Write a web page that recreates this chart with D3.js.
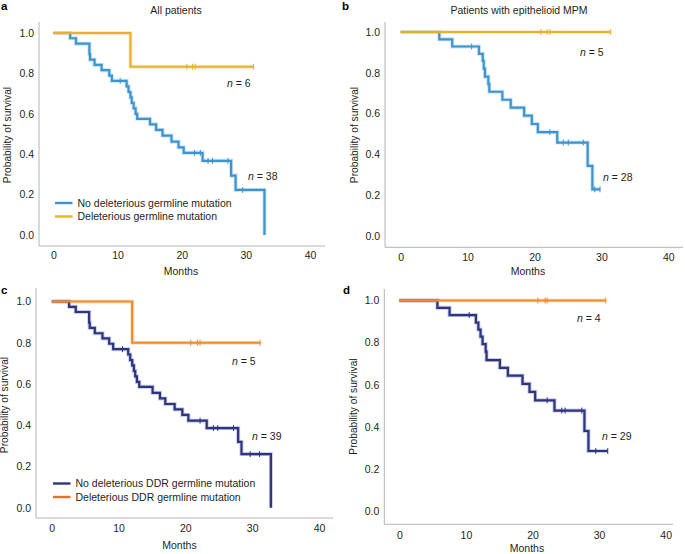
<!DOCTYPE html>
<html><head><meta charset="utf-8">
<script src="https://cdn.jsdelivr.net/npm/d3@7/dist/d3.min.js"></script>
<style>
html,body{margin:0;padding:0;background:#fff;}
svg{display:block;font-family:"Liberation Sans",Arial,Helvetica,sans-serif;}
</style></head>
<body><svg id="chart" width="685" height="554"></svg>
<script>
// ---------- data ----------
const monthTicks = [0, 10, 20, 30, 40];
const probTicks = [0, 0.2, 0.4, 0.6, 0.8, 1.0];

// Panel a: All patients
const aNoMutTimes = [0, 2.6, 3.5, 5.6, 5.7, 6.4, 7.5, 8.7, 9.1, 11.4, 11.7, 12.0, 12.2, 12.5, 12.8, 13.05, 15.05, 16.0, 17.0, 18.4, 19.5, 20.3, 23.25, 27.7, 28.4, 32.9];
const aNoMutSurv  = [1, 0.974, 0.947, 0.895, 0.868, 0.842, 0.816, 0.789, 0.763, 0.736, 0.708, 0.681, 0.654, 0.627, 0.600, 0.575, 0.548, 0.520, 0.492, 0.462, 0.434, 0.407, 0.367, 0.294, 0.223, 0.0];
const aNoMutCensor = [10.4, 22.0, 22.9, 24.1, 24.8, 27.2, 29.5];
const aNoMutEnd = 32.9;
const aMutTimes = [0, 12.0];
const aMutSurv  = [1, 0.833];
const aMutCensor = [20.8, 21.7, 22.1, 31.2];
const aMutEnd = 31.2;

// Panel b: Patients with epithelioid MPM
const bNoMutTimes = [0, 5.77, 7.7, 11.7, 12.26, 12.41, 12.6, 13.1, 13.25, 15.2, 16.45, 18.45, 19.6, 20.5, 23.4, 27.95, 28.65];
const bNoMutSurv  = [1, 0.964, 0.929, 0.893, 0.859, 0.820, 0.781, 0.744, 0.707, 0.668, 0.629, 0.590, 0.549, 0.509, 0.458, 0.344, 0.229];
const bNoMutCensor = [10.6, 22.3, 24.3, 25.05, 27.3, 29.0, 29.8];
const bNoMutEnd = 29.8;
const bMutTimes = [0];
const bMutSurv  = [1];
const bMutCensor = [20.95, 21.9, 22.3, 31.4];
const bMutEnd = 31.4;

// Panel c: All patients, DDR genes
const cNoMutTimes = [0, 2.6, 3.6, 5.6, 5.7, 6.45, 7.6, 8.6, 9.2, 11.45, 11.75, 12.05, 12.3, 12.5, 12.75, 13.1, 15.1, 16.2, 17.0, 18.4, 19.55, 20.45, 23.2, 27.9, 28.4, 32.8];
const cNoMutSurv  = [1, 0.974, 0.949, 0.897, 0.872, 0.846, 0.821, 0.795, 0.769, 0.743, 0.716, 0.690, 0.663, 0.637, 0.610, 0.586, 0.557, 0.530, 0.503, 0.477, 0.450, 0.422, 0.386, 0.319, 0.260, 0.0];
const cNoMutCensor = [10.6, 22.2, 24.2, 24.85, 27.2, 29.7, 31.1];
const cNoMutEnd = 32.8;
const cMutTimes = [0, 12.05];
const cMutSurv  = [1, 0.8];
const cMutCensor = [20.8, 21.8, 22.2, 31.2];
const cMutEnd = 31.2;

// Panel d: epithelioid MPM, DDR genes
const dNoMutTimes = [0, 5.72, 7.55, 11.5, 11.87, 12.2, 12.5, 12.97, 13.1, 15.1, 16.3, 18.5, 19.55, 20.4, 23.3, 27.8, 28.4];
const dNoMutSurv  = [1, 0.965, 0.931, 0.895, 0.862, 0.828, 0.793, 0.757, 0.717, 0.680, 0.643, 0.604, 0.566, 0.526, 0.477, 0.380, 0.285];
const dNoMutCensor = [10.5, 22.2, 24.4, 24.9, 27.4, 29.5, 31.3];
const dNoMutEnd = 31.3;
const dMutTimes = [0];
const dMutSurv  = [1];
const dMutCensor = [20.8, 21.9, 22.2, 31.0];
const dMutEnd = 31.0;

const panelLetters = ["a", "b", "c", "d"];
const panelTitles = ["All patients", "Patients with epithelioid MPM", "", ""];
const nLabelsNoMut = ["38", "28", "39", "29"];
const nLabelsMut = ["6", "5", "5", "4"];
const legendAB = ["No deleterious germline mutation", "Deleterious germline mutation"];
const legendCD = ["No deleterious DDR germline mutation", "Deleterious DDR germline mutation"];

// ---------- styles / layout ----------
const COL = {blue: "#3d95d0", yellow: "#e8b12b", navy: "#2d3480", orange: "#ef8a2b", orangeLeg: "#f06a2c"};
const axisCol = "#b4b4b4";
const textCol = "#231f20";

const panels = [
  {letter: [1, 10], title: [176, 14], xr: [53.5, 310], yr: [235, 33], axX: 39, axTop: 22, axBot: 246, axRight: 325,
   xTickY: 259, monthsPos: [181, 275], yTitle: [7.5, 135], nMut: [227, 87], nNo: [248, 180], legend: [55, 203],
   curves: [
     {t: aNoMutTimes, s: aNoMutSurv, c: aNoMutCensor, end: aNoMutEnd, col: COL.blue},
     {t: aMutTimes, s: aMutSurv, c: aMutCensor, end: aMutEnd, col: COL.yellow}],
   legendText: legendAB, legendCols: [COL.blue, COL.yellow]},
  {letter: [342, 10], title: [519, 14], xr: [400.7, 668.3], yr: [236, 32], axX: 385, axTop: 22, axBot: 247.3, axRight: 683,
   xTickY: 260.5, monthsPos: [528, 275], yTitle: [354, 135], nMut: [580, 55.5], nNo: [603, 180.5], legend: null,
   curves: [
     {t: bNoMutTimes, s: bNoMutSurv, c: bNoMutCensor, end: bNoMutEnd, col: COL.blue},
     {t: bMutTimes, s: bMutSurv, c: bMutCensor, end: bMutEnd, col: COL.yellow}]},
  {letter: [1, 294], title: null, xr: [51.7, 319], yr: [507.7, 301.5], axX: 36, axTop: 288, axBot: 518, axRight: 333,
   xTickY: 532, monthsPos: [179.5, 549], yTitle: [4.5, 405], nMut: [232, 365], nNo: [252, 439.5], legend: [53, 483.5],
   curves: [
     {t: cNoMutTimes, s: cNoMutSurv, c: cNoMutCensor, end: cNoMutEnd, col: COL.navy},
     {t: cMutTimes, s: cMutSurv, c: cMutCensor, end: cMutEnd, col: COL.orange}],
   legendText: legendCD, legendCols: [COL.navy, COL.orangeLeg]},
  {letter: [343, 294], title: null, xr: [399.3, 665.7], yr: [511, 300.5], axX: 384.3, axTop: 289, axBot: 524.3, axRight: 673,
   xTickY: 539, monthsPos: [527, 552], yTitle: [353, 406.5], nMut: [577, 322], nNo: [602, 440], legend: null,
   curves: [
     {t: dNoMutTimes, s: dNoMutSurv, c: dNoMutCensor, end: dNoMutEnd, col: COL.navy},
     {t: dMutTimes, s: dMutSurv, c: dMutCensor, end: dMutEnd, col: COL.orange}]}
];

const svg = d3.select("#chart");

function survAt(cv, time) {
  let s = cv.s[0];
  for (let i = 0; i < cv.t.length; i++) if (cv.t[i] <= time) s = cv.s[i];
  return s;
}

panels.forEach((p, pi) => {
  const g = svg.append("g");
  const x = d3.scaleLinear().domain([0, 40]).range(p.xr);
  const y = d3.scaleLinear().domain([0, 1]).range(p.yr);

  // axis lines
  g.append("line").attr("x1", p.axX).attr("x2", p.axX).attr("y1", p.axTop).attr("y2", p.axBot)
    .attr("stroke", axisCol).attr("stroke-width", 1);
  g.append("line").attr("x1", p.axX).attr("x2", p.axRight).attr("y1", p.axBot).attr("y2", p.axBot)
    .attr("stroke", axisCol).attr("stroke-width", 1);

  // tick labels via d3 axes (no tick lines)
  const yAxis = d3.axisLeft(y).tickValues(probTicks).tickFormat(d3.format(".1f")).tickSize(0).tickPadding(5);
  const ya = g.append("g").attr("transform", `translate(${p.axX},0)`).call(yAxis);
  ya.select(".domain").remove();
  ya.selectAll("text").attr("font-size", 10.5).attr("fill", textCol).attr("font-family", "Liberation Sans, Arial, sans-serif");

  const xAxis = d3.axisBottom(x).tickValues(monthTicks).tickFormat(d3.format("d")).tickSize(0).tickPadding(0);
  const xa = g.append("g").attr("transform", `translate(0,${p.xTickY - 8})`).call(xAxis);
  xa.select(".domain").remove();
  xa.selectAll("text").attr("font-size", 10.5).attr("fill", textCol).attr("dy", null).attr("y", 8)
    .attr("font-family", "Liberation Sans, Arial, sans-serif");

  // axis titles
  g.append("text").attr("x", p.monthsPos[0]).attr("y", p.monthsPos[1]).attr("text-anchor", "middle")
    .attr("font-size", 10.5).attr("fill", textCol).text("Months");
  g.append("text").attr("transform", `translate(${p.yTitle[0]},${p.yTitle[1]}) rotate(-90)`)
    .attr("text-anchor", "middle").attr("dominant-baseline", "central")
    .attr("font-size", 10.2).attr("fill", textCol).text("Probability of survival");

  // panel letter / title
  g.append("text").attr("x", p.letter[0]).attr("y", p.letter[1]).attr("font-size", 11.5).attr("font-weight", "bold")
    .attr("fill", "#000").text(panelLetters[pi]);
  if (p.title) g.append("text").attr("x", p.title[0]).attr("y", p.title[1]).attr("text-anchor", "middle")
    .attr("font-size", 10.5).attr("fill", textCol).text(panelTitles[pi]);

  // curves
  const line = d3.line().x(d => x(d[0])).y(d => y(d[1])).curve(d3.curveStepAfter);
  p.curves.forEach(cv => {
    const pts = cv.t.map((t, i) => [t, cv.s[i]]);
    const last = pts[pts.length - 1];
    if (last[0] < cv.end) pts.push([cv.end, last[1]]);
    g.append("path").attr("d", line(pts)).attr("fill", "none").attr("stroke", cv.col)
      .attr("stroke-opacity", 0.25).attr("stroke-width", 4);
    g.append("path").attr("d", line(pts)).attr("fill", "none").attr("stroke", cv.col)
      .attr("stroke-width", 2.2);
    g.selectAll(null).data(cv.c).enter().append("line")
      .attr("x1", d => x(d)).attr("x2", d => x(d))
      .attr("y1", d => y(survAt(cv, d)) - 3).attr("y2", d => y(survAt(cv, d)) + 3)
      .attr("stroke", cv.col).attr("stroke-width", 1);
  });

  // n labels
  const nLab = (pos, val) => {
    const t = g.append("text").attr("x", pos[0]).attr("y", pos[1]).attr("font-size", 10.5).attr("fill", textCol);
    t.append("tspan").attr("font-style", "italic").text("n");
    t.append("tspan").text(" = " + val);
  };
  nLab(p.nMut, nLabelsMut[pi]);
  nLab(p.nNo, nLabelsNoMut[pi]);

  // legend
  if (p.legend) {
    p.legendText.forEach((txt, i) => {
      const yy = p.legend[1] + i * 13.5;
      g.append("line").attr("x1", p.legend[0]).attr("x2", p.legend[0] + 17.5).attr("y1", yy).attr("y2", yy)
        .attr("stroke", p.legendCols[i]).attr("stroke-width", 2.4);
      g.append("text").attr("x", p.legend[0] + 22.5).attr("y", yy + 3.8).attr("font-size", 10.5)
        .attr("fill", textCol).text(txt);
    });
  }
});
</script>
</body></html>
